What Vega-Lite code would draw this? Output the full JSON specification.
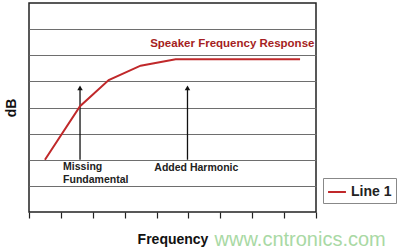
{
  "$schema": "https://vega.github.io/schema/vega-lite/v6.json",
  "autosize": "none",
  "width": 287,
  "height": 209,
  "padding": {"left": 29, "top": 3, "right": 84, "bottom": 38},
  "background": "white",
  "config": {
    "view": {"stroke": "#222", "strokeWidth": 1.5},
    "font": "Liberation Sans"
  },
  "datasets": {
    "response": [
      {"freq": 0.5, "db": 2.0, "series": "Line 1"},
      {"freq": 1.6, "db": 4.05, "series": "Line 1"},
      {"freq": 2.5, "db": 5.05, "series": "Line 1"},
      {"freq": 3.5, "db": 5.6, "series": "Line 1"},
      {"freq": 4.6, "db": 5.85, "series": "Line 1"},
      {"freq": 8.5, "db": 5.85, "series": "Line 1"}
    ],
    "arrows": [
      {"freq": 1.6, "from": 2.0, "to": 4.75},
      {"freq": 4.97, "from": 2.0, "to": 4.75}
    ],
    "notes": [
      {"freq": 3.8, "db": 6.42, "text": "Speaker Frequency Response", "kind": "title"},
      {"freq": 1.07, "db": 1.73, "text": "Missing", "kind": "note"},
      {"freq": 1.07, "db": 1.22, "text": "Fundamental", "kind": "note"},
      {"freq": 3.93, "db": 1.69, "text": "Added Harmonic", "kind": "note"}
    ],
    "mark": [
      {"freq": 5.82, "db": -1.08, "text": "www.cntronics.com"}
    ]
  },
  "encoding": {
    "x": {
      "type": "quantitative",
      "scale": {"domain": [0, 9], "nice": false},
      "axis": {
        "values": [0, 1, 2, 3, 4, 5, 6, 7, 8, 9],
        "labels": false,
        "domain": false,
        "grid": false,
        "ticks": true,
        "tickSize": 6,
        "tickColor": "#222",
        "tickWidth": 1.2,
        "title": "Frequency",
        "titleFontSize": 14,
        "titleFontWeight": "bold",
        "titleColor": "#111",
        "titlePadding": 14
      }
    },
    "y": {
      "type": "quantitative",
      "scale": {"domain": [0, 8], "nice": false},
      "axis": {
        "values": [1, 2, 3, 4, 5, 6, 7],
        "labels": false,
        "domain": false,
        "ticks": false,
        "grid": true,
        "gridColor": "#6e6e6e",
        "gridWidth": 1.2,
        "gridOpacity": 1,
        "title": "dB",
        "titleFontSize": 14,
        "titleFontWeight": "bold",
        "titleColor": "#111",
        "titlePadding": 11
      }
    }
  },
  "layer": [
    {
      "data": {"name": "arrows"},
      "mark": {"type": "rule", "color": "#111", "strokeWidth": 1.3},
      "encoding": {
        "x": {"field": "freq", "type": "quantitative"},
        "y": {"field": "from", "type": "quantitative"},
        "y2": {"field": "to"}
      }
    },
    {
      "data": {"name": "arrows"},
      "mark": {"type": "point", "shape": "triangle-up", "filled": true, "color": "#111", "size": 30, "opacity": 1},
      "encoding": {
        "x": {"field": "freq", "type": "quantitative"},
        "y": {"field": "to", "type": "quantitative"}
      }
    },
    {
      "data": {"name": "response"},
      "mark": {"type": "line", "strokeWidth": 2},
      "encoding": {
        "x": {"field": "freq", "type": "quantitative"},
        "y": {"field": "db", "type": "quantitative"},
        "color": {
          "field": "series",
          "type": "nominal",
          "scale": {"range": ["#c0282a"]},
          "legend": {
            "orient": "none",
            "legendX": 294,
            "legendY": 175,
            "title": null,
            "symbolType": "stroke",
            "symbolSize": 320,
            "symbolStrokeWidth": 2,
            "labelFontSize": 14,
            "labelFontWeight": "bold",
            "labelColor": "#222",
            "strokeColor": "#888",
            "fillColor": "white",
            "padding": 4
          }
        }
      }
    },
    {
      "data": {"name": "notes"},
      "mark": {"type": "text", "align": "left", "baseline": "middle", "fontWeight": "bold"},
      "encoding": {
        "x": {"field": "freq", "type": "quantitative"},
        "y": {"field": "db", "type": "quantitative"},
        "text": {"field": "text"},
        "color": {
          "condition": {"test": "datum.kind === 'title'", "value": "#a51e22"},
          "value": "#222"
        },
        "size": {
          "condition": {"test": "datum.kind === 'title'", "value": 11.5},
          "value": 10.5
        }
      }
    },
    {
      "data": {"name": "mark"},
      "mark": {"type": "text", "align": "left", "baseline": "middle", "fontSize": 20, "color": "#a9d9a4", "clip": false},
      "encoding": {
        "x": {"field": "freq", "type": "quantitative"},
        "y": {"field": "db", "type": "quantitative"},
        "text": {"field": "text"}
      }
    }
  ]
}
